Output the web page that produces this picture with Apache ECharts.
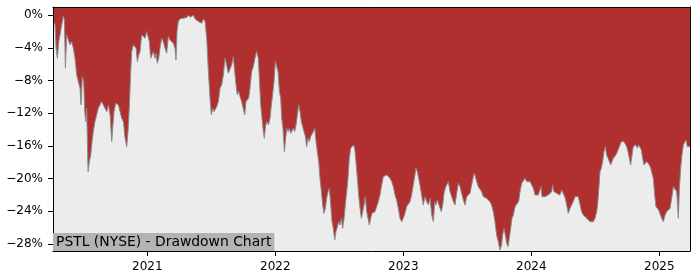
<!DOCTYPE html>
<html>
<head>
<meta charset="utf-8">
<script src="https://cdn.jsdelivr.net/npm/echarts@6/dist/echarts.min.js"></script>
<style>
html,body{margin:0;padding:0;background:#fff;}
#chart{width:700px;height:280px;}
</style>
</head>
<body>
<div id="chart"></div>
<script>
// Decimal-year positions
const dateYears = [
2020.263,2020.279,2020.287,2020.297,2020.308,2020.318,2020.331,2020.344,2020.352,2020.360,
2020.370,2020.383,2020.396,2020.409,2020.422,2020.435,2020.448,2020.461,2020.474,2020.482,
2020.492,2020.503,2020.511,2020.519,2020.526,2020.537,2020.547,2020.558,2020.568,2020.578,
2020.591,2020.604,2020.617,2020.630,2020.643,2020.656,2020.669,2020.683,2020.696,2020.709,
2020.722,2020.729,2020.740,2020.753,2020.761,2020.774,2020.787,2020.800,2020.813,2020.826,
2020.839,2020.849,2020.860,2020.870,2020.878,2020.891,2020.904,2020.912,2020.922,2020.933,
2020.943,2020.956,2020.969,2020.982,2020.995,2021.008,2021.016,2021.026,2021.037,2021.047,
2021.060,2021.068,2021.078,2021.089,2021.099,2021.112,2021.125,2021.138,2021.151,2021.164,
2021.177,2021.190,2021.203,2021.216,2021.224,2021.232,2021.242,2021.255,2021.268,2021.281,
2021.295,2021.308,2021.321,2021.334,2021.347,2021.360,2021.373,2021.386,2021.399,2021.412,
2021.425,2021.438,2021.451,2021.464,2021.477,2021.490,2021.500,2021.511,2021.521,
2021.529,2021.542,2021.555,2021.568,2021.581,2021.594,2021.607,2021.620,2021.633,2021.646,
2021.659,2021.672,2021.680,2021.693,2021.703,2021.714,2021.724,2021.737,2021.750,2021.761,
2021.771,2021.782,2021.792,2021.802,2021.815,2021.828,2021.841,2021.854,2021.867,2021.875,
2021.886,2021.896,2021.906,2021.914,2021.925,2021.935,2021.946,2021.959,2021.969,2021.979,
2021.990,2022.000,2022.011,2022.021,2022.032,2022.042,2022.050,2022.060,2022.071,2022.081,
2022.089,2022.099,2022.110,2022.120,2022.131,2022.141,2022.151,2022.162,2022.172,2022.183,
2022.193,2022.203,2022.214,2022.224,2022.235,2022.245,2022.255,2022.266,2022.276,2022.287,
2022.297,2022.308,2022.318,2022.328,2022.339,2022.349,2022.360,2022.370,2022.380,2022.391,
2022.401,2022.412,2022.422,2022.433,2022.443,2022.453,2022.464,2022.474,2022.485,2022.495,
2022.505,2022.516,2022.526,2022.537,2022.547,2022.558,2022.568,2022.578,2022.589,2022.599,
2022.610,2022.620,2022.630,2022.641,2022.651,2022.662,2022.672,2022.683,2022.693,2022.703,
2022.714,2022.724,2022.735,2022.745,2022.755,2022.766,2022.779,2022.792,2022.805,2022.818,
2022.831,2022.844,2022.857,2022.870,2022.883,2022.896,2022.909,2022.922,2022.935,2022.948,
2022.961,2022.974,2022.987,2023.000,2023.013,2023.026,2023.039,2023.052,2023.065,2023.078,
2023.091,2023.099,2023.110,2023.120,2023.130,2023.143,2023.156,2023.170,2023.183,2023.196,
2023.209,2023.222,2023.235,2023.245,2023.255,2023.266,2023.276,2023.287,2023.297,2023.308,
2023.318,2023.328,2023.339,2023.352,2023.365,2023.378,2023.391,2023.404,2023.417,2023.430,
2023.443,2023.456,2023.469,2023.482,2023.495,2023.508,2023.521,2023.534,2023.547,2023.555,
2023.563,2023.573,2023.586,2023.599,2023.612,2023.625,2023.638,2023.651,2023.664,2023.677,
2023.690,2023.703,2023.716,2023.729,2023.742,2023.755,2023.768,2023.776,2023.787,2023.797,
2023.808,2023.818,2023.828,2023.839,2023.849,2023.860,2023.870,2023.880,2023.891,2023.901,
2023.912,2023.925,2023.938,2023.951,2023.964,2023.977,2023.990,2024.003,2024.016,
2024.029,2024.042,2024.055,2024.068,2024.076,2024.084,2024.094,2024.107,2024.120,2024.133,
2024.146,2024.159,2024.167,2024.177,2024.188,2024.198,2024.211,2024.224,2024.237,2024.245,
2024.255,2024.266,2024.276,2024.289,2024.302,2024.315,2024.328,2024.341,2024.354,2024.367,
2024.380,2024.393,2024.406,2024.419,2024.433,2024.446,2024.459,2024.472,2024.485,2024.498,
2024.511,2024.518,2024.526,2024.537,2024.547,2024.558,2024.568,2024.578,2024.589,2024.599,
2024.610,2024.620,2024.630,2024.641,2024.651,2024.662,2024.672,2024.683,2024.693,2024.703,
2024.714,2024.724,2024.735,2024.745,2024.755,2024.766,2024.776,2024.787,2024.797,2024.808,
2024.818,2024.828,2024.839,2024.849,2024.860,2024.870,2024.880,2024.891,2024.901,2024.912,
2024.922,2024.933,2024.943,2024.953,2024.964,2024.974,2024.985,2024.995,2025.005,2025.018,
2025.032,2025.045,2025.058,2025.071,2025.084,2025.097,2025.110,2025.123,2025.136,2025.149,
2025.157,2025.167,2025.177,2025.188,2025.198,2025.209,2025.219,2025.229,2025.240
];
// Drawdown in percent
const drawdown = [
-0.6,-1.19,-4.04,-5.27,-3.23,-2.41,-1.19,-0.1,-0.58,-6.49,
-2.41,-3.02,-3.63,-3.23,-4.04,-5.27,-7.30,-7.10,-8.94,-10.98,
-7.51,-8.12,-11.80,-13.02,-11.39,-19.14,-17.91,-17.10,-15.47,-14.24,
-13.02,-12.20,-11.39,-10.98,-10.57,-10.57,-11.39,-11.80,-10.98,-12.20,
-15.47,-13.84,-11.80,-10.78,-10.78,-10.98,-11.80,-12.61,-13.02,-15.06,
-16.08,-14.24,-10.98,-6.90,-4.45,-3.63,-3.43,-4.04,-5.67,-4.86,
-4.45,-2.41,-2.21,-2.82,-2.00,-1.80,-3.23,-5.27,-4.86,-4.45,
-5.27,-4.66,-5.88,-5.27,-4.04,-2.82,-3.23,-4.04,-4.66,-2.62,
-3.02,-2.82,-3.43,-4.04,-5.47,-2.00,-0.78,-0.45,-0.58,-0.37,
-0.29,-0.29,0,-0.25,-0.37,0,-0.45,-0.58,-0.78,-0.58,
-0.98,-0.45,-0.78,-2.82,-6.90,-10.16,-12.20,-11.39,-11.80,
-11.80,-11.19,-10.57,-8.94,-8.53,-7.30,-5.27,-5.06,-7.10,-6.90,
-6.08,-5.06,-6.49,-8.53,-9.75,-9.35,-9.96,-10.57,-10.57,-12.20,
-10.57,-10.78,-10.16,-8.94,-6.90,-6.29,-5.27,-4.45,-5.27,-7.71,
-10.98,-12.61,-14.24,-15.06,-13.43,-13.02,-13.43,-12.61,-10.98,-9.75,
-8.12,-5.67,-5.47,-6.90,-9.35,-10.16,-12.61,-13.84,-16.69,-15.06,
-13.84,-14.24,-13.84,-14.45,-14.24,-13.84,-14.24,-13.43,-12.20,-10.98,
-11.80,-13.02,-12.81,-14.24,-14.86,-16.08,-15.06,-15.47,-14.86,-14.65,
-14.24,-13.84,-15.47,-16.69,-17.91,-19.95,-21.59,-23.22,-24.24,-23.63,
-22.41,-21.59,-21.18,-23.22,-25.26,-26.08,-27.50,-26.48,-25.87,-25.26,
-25.67,-24.85,-26.08,-24.85,-23.22,-21.59,-19.95,-17.50,-16.28,-16.49,
-15.87,-16.28,-17.91,-19.95,-22.00,-23.63,-24.85,-24.04,-23.22,-22.20,
-24.04,-24.85,-25.67,-24.85,-24.24,-24.04,-24.04,-23.42,-22.81,-22.00,
-20.77,-19.75,-19.95,-19.55,-19.34,-19.95,-20.36,-20.98,-22.00,-22.61,
-23.63,-24.85,-25.26,-24.85,-24.24,-23.42,-23.22,-22.81,-22.00,-20.77,
-19.55,-18.73,-19.14,-19.95,-20.77,-22.00,-23.22,-22.20,-22.81,-23.22,
-22.41,-24.44,-25.26,-22.81,-23.22,-22.61,-22.81,-23.63,-24.04,-23.22,
-21.79,-21.18,-20.77,-20.36,-21.59,-22.20,-22.81,-23.22,-21.79,-20.57,
-20.98,-21.18,-22.61,-23.22,-22.20,-22.00,-21.79,-20.77,-19.75,-19.34,
-19.75,-20.36,-20.98,-21.18,-21.59,-22.20,-22.41,-22.41,-22.41,-22.81,
-23.22,-24.04,-25.26,-26.89,-27.71,-28.73,-28.12,-26.89,-26.08,-26.89,
-27.91,-28.32,-27.30,-26.08,-24.85,-24.44,-23.63,-23.22,-23.22,-22.81,
-21.59,-20.57,-20.36,-19.95,-20.36,-20.16,-20.36,-20.57,-21.18,
-22.00,-22.20,-22.00,-21.39,-20.98,-22.20,-22.41,-22.20,-22.20,-22.00,
-22.20,-21.59,-20.77,-21.59,-21.39,-21.79,-21.59,-22.00,-21.39,-21.18,
-22.00,-22.41,-23.22,-24.24,-23.63,-23.22,-22.81,-22.20,-22.00,-22.20,
-22.41,-24.04,-24.44,-24.24,-24.85,-25.06,-25.26,-25.46,-25.26,-24.85,
-24.04,-23.22,-21.59,-19.14,-18.73,-17.91,-16.69,-16.08,-17.10,-17.50,
-17.91,-18.32,-17.91,-17.50,-17.30,-17.10,-17.10,-16.28,-15.87,-15.47,
-15.26,-15.47,-15.67,-16.08,-16.69,-17.50,-18.32,-17.10,-16.08,-16.28,
-15.87,-16.28,-15.87,-15.67,-16.49,-17.50,-18.32,-18.52,-17.91,-17.71,
-18.32,-18.73,-19.34,-19.95,-22.00,-23.42,-23.63,-23.83,-24.04,-24.85,
-25.26,-24.44,-24.04,-24.04,-23.63,-22.41,-20.98,-21.18,-21.59,-24.85,
-21.18,-18.73,-17.10,-15.87,-15.67,-15.26,-16.08,-16.08,-16.08
];
const yTickValues = [0, -4, -8, -12, -16, -20, -24, -28];
const xTickYears = [2021, 2022, 2023, 2024, 2025];
const chartTitle = 'PSTL (NYSE) - Drawdown Chart';

const seriesData = dateYears.map((t, i) => [t, drawdown[i]]);
const FONT = 'DejaVu Sans';

const chart = echarts.init(document.getElementById('chart'), null, {renderer: 'canvas'});
chart.setOption({
  animation: false,
  backgroundColor: '#ffffff',
  title: {
    text: chartTitle,
    left: 53,
    top: 233,
    padding: [1, 3, 1, 3],
    backgroundColor: '#b3b3b3',
    z: 10,
    textStyle: {fontFamily: FONT, fontSize: 13.9, fontWeight: 'normal', color: '#000', lineHeight: 16}
  },
  grid: {left: 53, right: 10, top: 7, bottom: 29, show: true, backgroundColor: '#ececec', borderWidth: 0},
  xAxis: [{
    type: 'value', min: dateYears[0], max: dateYears[dateYears.length - 1],
    position: 'bottom', z: 5,
    splitLine: {show: false},
    axisLine: {show: true, onZero: false, lineStyle: {color: '#000', width: 1}},
    axisTick: {show: true, length: 5, lineStyle: {color: '#000'}, customValues: xTickYears},
    axisLabel: {customValues: xTickYears, formatter: v => String(Math.round(v)), fontFamily: FONT, fontSize: 12, color: '#000', margin: 10}
  }, {
    type: 'value', min: dateYears[0], max: dateYears[dateYears.length - 1],
    position: 'top', z: 5,
    splitLine: {show: false}, axisTick: {show: false}, axisLabel: {show: false},
    axisLine: {show: true, onZero: false, lineStyle: {color: '#000', width: 1}}
  }],
  yAxis: [{
    type: 'value', min: -28.85, max: 1.0, position: 'left', z: 5,
    splitLine: {show: false},
    axisLine: {show: true, onZero: false, lineStyle: {color: '#000', width: 1}},
    axisTick: {show: true, length: 5, lineStyle: {color: '#000'}, customValues: yTickValues},
    axisLabel: {customValues: yTickValues, formatter: v => (v < 0 ? '\u2212' : '') + Math.abs(v) + '%', fontFamily: FONT, fontSize: 12, color: '#000', margin: 10}
  }, {
    type: 'value', min: -28.85, max: 1.0, position: 'right', z: 5,
    splitLine: {show: false}, axisTick: {show: false}, axisLabel: {show: false},
    axisLine: {show: true, onZero: false, lineStyle: {color: '#000', width: 1}}
  }],
  series: [{
    type: 'line',
    data: seriesData,
    xAxisIndex: 0, yAxisIndex: 0,
    showSymbol: false,
    symbol: 'none',
    lineStyle: {color: '#8a8a8a', width: 1},
    areaStyle: {color: '#b03030', opacity: 1, origin: 'end'},
    z: 2
  }]
});
</script>
</body>
</html>
